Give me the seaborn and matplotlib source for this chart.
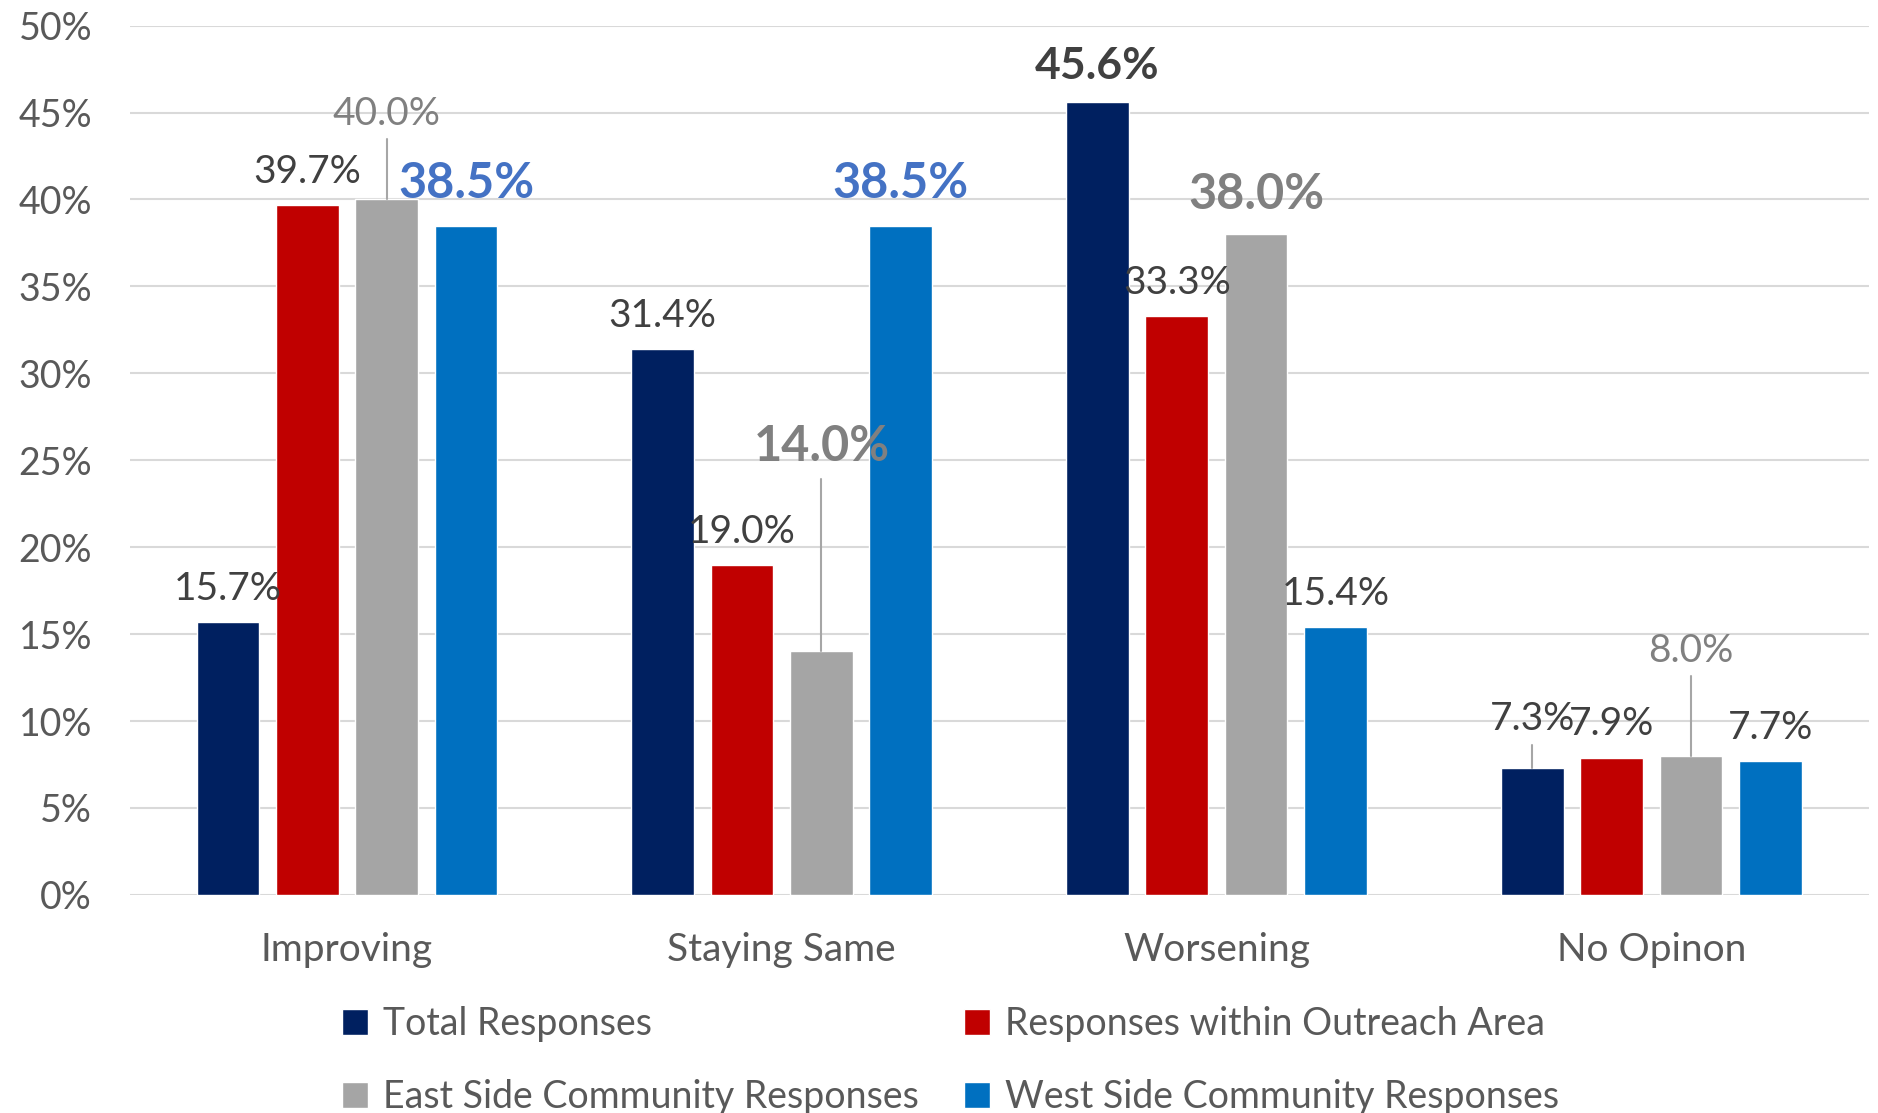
import pandas as pd
import numpy as np
import matplotlib.pyplot as plt
import seaborn as sns

# data
categories = ['Improving', 'Staying Same', 'Worsening', 'No Opinon']
series = ['Total Responses', 'Responses within Outreach Area',
          'East Side Community Responses', 'West Side Community Responses']
total = [15.7, 31.4, 45.6, 7.3]
outreach = [39.7, 19.0, 33.3, 7.9]
east = [40.0, 14.0, 38.0, 8.0]
west = [38.5, 38.5, 15.4, 7.7]
yticks = [0, 5, 10, 15, 20, 25, 30, 35, 40, 45, 50]

colors = ['#002060', '#C00000', '#A5A5A5', '#0070C0']

rows = []
for name, vals in zip(series, [total, outreach, east, west]):
    for cat, v in zip(categories, vals):
        rows.append({'Category': cat, 'Series': name, 'Value': v})
df = pd.DataFrame(rows)

sns.set_theme(style='white')
plt.rcParams['font.family'] = ['Lato', 'DejaVu Sans']

fig = plt.figure(figsize=(18.78, 11.13), dpi=100)
ax = fig.add_axes([0.069, 0.196, 0.926, 0.781])

sns.barplot(data=df, x='Category', y='Value', hue='Series', order=categories,
            hue_order=series, palette=colors, width=0.73, gap=0.21,
            saturation=1, errorbar=None, ax=ax, legend=True)

ax.set_ylim(0, 50)
ax.set_xlim(-0.5, 3.5)
ax.set_yticks(yticks)
ax.set_yticklabels([f'{t}%' for t in yticks])
ax.yaxis.grid(True, color='#D9D9D9', lw=1.5)
ax.set_axisbelow(True)
for s in ax.spines.values():
    s.set_visible(False)
ax.tick_params(axis='both', length=0, colors='#595959')
ax.tick_params(axis='y', pad=27, labelsize=27)
ax.tick_params(axis='x', pad=27, labelsize=28)
ax.set_xlabel('')
ax.set_ylabel('')

# label styles: (colour, bold, size, offset above bar, leader line)
dark, grey, blue = '#404040', '#808080', '#4472C4'
styles = {
    ('Improving', 0): (dark, False, 28, 1.9, None),
    ('Improving', 1): (dark, False, 28, 1.9, None),
    ('Improving', 2): (grey, False, 28, 4.9, 3.5),
    ('Improving', 3): (blue, True, 35, 2.4, None),
    ('Staying Same', 0): (dark, False, 28, 1.9, None),
    ('Staying Same', 1): (dark, False, 28, 1.9, None),
    ('Staying Same', 2): (grey, True, 35, 11.8, 9.9),
    ('Staying Same', 3): (blue, True, 35, 2.4, None),
    ('Worsening', 0): (dark, True, 32, 2.1, None),
    ('Worsening', 1): (dark, False, 28, 1.9, None),
    ('Worsening', 2): (grey, True, 35, 2.3, None),
    ('Worsening', 3): (dark, False, 28, 1.9, None),
    ('No Opinon', 0): (dark, False, 28, 2.8, 1.3),
    ('No Opinon', 1): (dark, False, 28, 1.9, None),
    ('No Opinon', 2): (grey, False, 28, 6.0, 4.6),
    ('No Opinon', 3): (dark, False, 28, 1.9, None),
}

slot = 0.73 / 4
for h, vals in enumerate([total, outreach, east, west]):
    for i, (cat, v) in enumerate(zip(categories, vals)):
        col, bold, size, off, lead = styles[(cat, h)]
        x = i + (h - 1.5) * slot
        if lead is not None:
            ax.plot([x, x], [v, v + lead], color='#A6A6A6', lw=1.5, zorder=1)
        ax.text(x, v + off, f'{v:.1f}%', ha='center', va='center',
                fontsize=size, color=col,
                fontweight='bold' if bold else 'normal')

handles, labels = ax.get_legend_handles_labels()
ax.legend_.remove()
order = [0, 2, 1, 3]
fig.legend([handles[k] for k in order], [labels[k] for k in order],
           loc='center', bbox_to_anchor=(0.506, 0.047),
           ncol=2, frameon=False, fontsize=27, labelcolor='#595959',
           handlelength=0.7, handleheight=0.7, handletextpad=0.4,
           columnspacing=1.2, labelspacing=1.0)

fig.savefig('out.png', dpi=100)
